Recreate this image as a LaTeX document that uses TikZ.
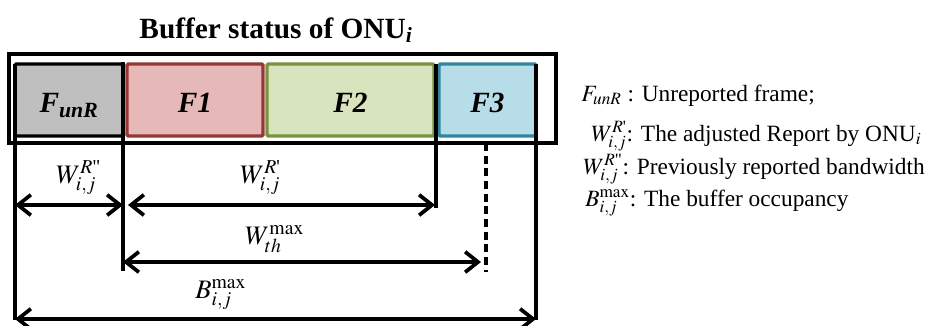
\documentclass[tikz,border=0pt]{standalone}
\usepackage{amsmath}
\usepackage{mathptmx}
\usepackage[no-math]{fontspec}
\setmainfont{Liberation Serif}
\usetikzlibrary{arrows.meta}
\definecolor{bufgrey}{HTML}{BFBFBF}
\definecolor{fonefill}{HTML}{E6B8B7}
\definecolor{fonedraw}{HTML}{953735}
\definecolor{ftwofill}{HTML}{D7E4BD}
\definecolor{ftwodraw}{HTML}{77933C}
\definecolor{fthreefill}{HTML}{B7DEE8}
\definecolor{fthreedraw}{HTML}{31859C}
\tikzset{
  bufframe/.style={draw=black, line width=2.6pt, minimum width=410.25pt,
                   minimum height=66.75pt, inner sep=0pt},
  fbox/.style    ={line width=2.6pt, rounded corners=1pt, minimum height=54pt,
                   inner sep=0pt, text height=19pt, text depth=0pt,
                   font=\fontsize{22}{26}\selectfont\bfseries\itshape},
  wall/.style    ={line width=2.8pt},
  dashwall/.style={line width=2.8pt, dash pattern=on 6pt off 3.5pt},
  dimline/.style ={{Straight Barb[length=3.4mm,width=5.4mm]}-{Straight Barb[length=3.4mm,width=5.4mm]},
                   line width=2.8pt},
  dimlbl/.style  ={anchor=base west, inner sep=0pt, font=\fontsize{20}{24}\selectfont},
  keytext/.style ={anchor=base west, inner sep=0pt, font=\fontsize{17.5}{20}\selectfont},
  headline/.style={anchor=base, inner sep=0pt, font=\fontsize{22}{26}\selectfont\bfseries},
}
\newcommand{\rone}{R\text{\textquotesingle}}
\newcommand{\rtwo}{R\text{\textquotedbl}}

\begin{document}
\begin{tikzpicture}[x=0.75pt,y=-0.75pt]
  \useasboundingbox (0,0) rectangle (932,325);

  % ---- the buffer -----------------------------------------------------------
  \node[headline] (head) at (276,38) {Buffer status of ONU\textsubscript{\textit{i}}};
  \node[bufframe] (buf) at (282.5,98.5) {};
  \node[fbox, draw=black, fill=bufgrey, minimum width=81pt] (funr) at (69,100)
    {F\textsubscript{unR}};
  \node[fbox, draw=fonedraw, fill=fonefill, minimum width=102pt] (fone) at (195,100) {F1};
  \node[fbox, draw=ftwodraw, fill=ftwofill, minimum width=125.25pt] (ftwo) at (350.5,100) {F2};
  \node[fbox, draw=fthreedraw, fill=fthreefill, minimum width=72.75pt] (fthree) at (487.5,100) {F3};

  % ---- the walls ------------------------------------------------------------
  \coordinate (a0) at (15,64);   \coordinate (a1) at (15,320);
  \coordinate (b0) at (123,62);  \coordinate (b1) at (123,271);
  \coordinate (c0) at (436,64);  \coordinate (c1) at (436,208);
  \coordinate (d0) at (536,64);  \coordinate (d1) at (536,320);
  \coordinate (e0) at (486,143); \coordinate (e1) at (486,272);
  \draw[wall] (a0) -- (a1);
  \draw[wall] (b0) -- (b1);
  \draw[wall] (c0) -- (c1);
  \draw[wall] (d0) -- (d1);
  \draw[dashwall] (e0) -- (e1);

  % ---- the widths -----------------------------------------------------------
  \coordinate (wa) at (15,205);  \coordinate (wb) at (123,205);
  \coordinate (wc) at (128,205); \coordinate (wd) at (435,205);
  \coordinate (we) at (123,262); \coordinate (wf) at (481,262);
  \coordinate (wg) at (15,319);  \coordinate (wh) at (536,319);
  \draw[dimline] (wa) -- (wb);
  \draw[dimline] (wc) -- (wd);
  \draw[dimline] (we) -- (wf);
  \draw[dimline] (wg) -- (wh);
  \node[dimlbl] (wprev) at (56,183) {$W^{\rtwo}_{i,j}$};
  \node[dimlbl] (wadj) at (240,183) {$W^{\rone}_{i,j}$};
  \node[dimlbl] (wth) at (245,244) {$W^{\mathrm{max}}_{th}$};
  \node[dimlbl] (bmax) at (195,298) {$B^{\mathrm{max}}_{i,j}$};

  % ---- the key --------------------------------------------------------------
  \node[keytext] (k1) at (581,101) {$F_{unR}$ : Unreported frame;};
  \node[keytext] (k2) at (591,141) {$W^{\rone}_{i,j}$: The adjusted Report by ONU$_i$};
  \node[keytext] (k3) at (583,174) {$W^{\rtwo}_{i,j}$: Previously reported bandwidth};
  \node[keytext] (k4) at (585,206) {$B^{\mathrm{max}}_{i,j}$: The buffer occupancy};
\end{tikzpicture}
\end{document}
